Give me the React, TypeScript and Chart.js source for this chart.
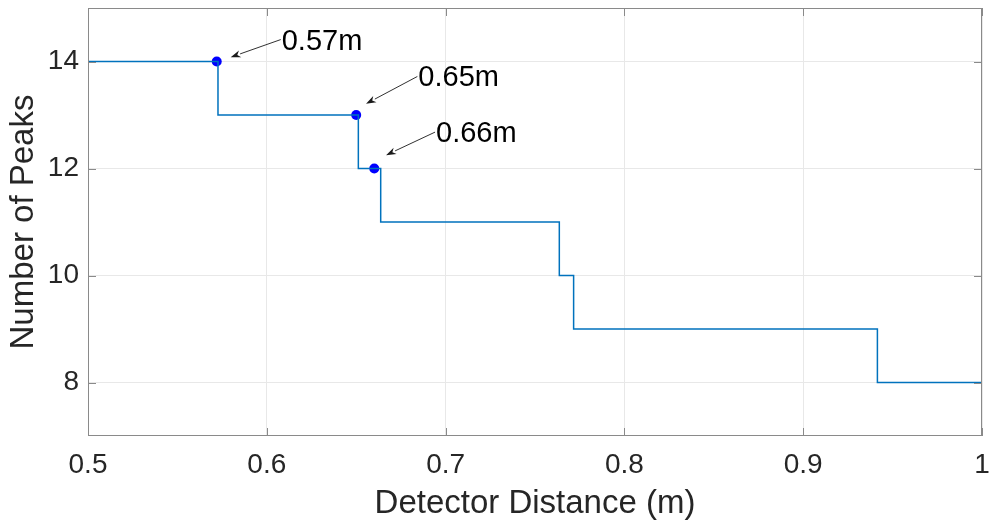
import React, { useEffect, useRef } from "react";
import { Chart, registerables } from "chart.js";

Chart.register(...registerables);

// Step curve: detector distance (m) where the number of peaks changes
const stepX = [0.5, 0.5727, 0.6512, 0.6637, 0.7636, 0.7716, 0.9415, 1.0];
const stepY = [14, 13, 12, 11, 10, 9, 8, 8];

// Highlighted points
const markX = [0.572, 0.65, 0.6601];
const markY = [14, 13, 12];

// Annotations (text anchor / arrow tail and arrow head, in data units)
const annLabels = ["0.57m", "0.65m", "0.66m"];
const annTailX = [0.6078, 0.6842, 0.6941];
const annTailY = [14.41, 13.72, 12.68];
const annHeadX = [0.5798, 0.6555, 0.6667];
const annHeadY = [14.08, 13.21, 12.25];

const xTicks = [0.5, 0.6, 0.7, 0.8, 0.9, 1];
const yTicks = [8, 10, 12, 14];

const FONT = "'Liberation Sans', Arial, Helvetica, sans-serif";
const AXIS_GRAY = "#8a8a8a";
const TEXT = "#262626";

const framePlugin = {
  id: "frame",
  afterDatasetsDraw(chart: any) {
    const { ctx, chartArea: a, scales } = chart;
    const xs = scales.x;
    const ys = scales.y;
    ctx.save();
    // box
    ctx.strokeStyle = AXIS_GRAY;
    ctx.lineWidth = 1;
    ctx.strokeRect(a.left + 0.5, a.top + 0.5, a.right - a.left - 1, a.bottom - a.top - 1);
    // inward ticks
    const tl = 8;
    ctx.beginPath();
    xTicks.forEach((v) => {
      const px = Math.round(xs.getPixelForValue(v)) + 0.5;
      ctx.moveTo(px, a.bottom);
      ctx.lineTo(px, a.bottom - tl);
      ctx.moveTo(px, a.top);
      ctx.lineTo(px, a.top + tl);
    });
    yTicks.forEach((v) => {
      const py = Math.round(ys.getPixelForValue(v)) + 0.5;
      ctx.moveTo(a.left, py);
      ctx.lineTo(a.left + tl, py);
      ctx.moveTo(a.right, py);
      ctx.lineTo(a.right - tl, py);
    });
    ctx.stroke();

    // annotations
    ctx.strokeStyle = "#1a1a1a";
    ctx.fillStyle = "#1a1a1a";
    ctx.lineWidth = 0.9;
    annLabels.forEach((label, i) => {
      const tx = xs.getPixelForValue(annTailX[i]);
      const ty = ys.getPixelForValue(annTailY[i]);
      const hx = xs.getPixelForValue(annHeadX[i]);
      const hy = ys.getPixelForValue(annHeadY[i]);
      const ang = Math.atan2(hy - ty, hx - tx);
      const headLen = 10;
      const headW = 3.5;
      const bx = hx - headLen * Math.cos(ang);
      const by = hy - headLen * Math.sin(ang);
      ctx.beginPath();
      ctx.moveTo(tx, ty);
      ctx.lineTo(bx, by);
      ctx.stroke();
      ctx.beginPath();
      ctx.moveTo(hx, hy);
      ctx.lineTo(bx + headW * Math.sin(ang), by - headW * Math.cos(ang));
      ctx.lineTo(hx - headLen * 0.7 * Math.cos(ang), hy - headLen * 0.7 * Math.sin(ang));
      ctx.lineTo(bx - headW * Math.sin(ang), by + headW * Math.cos(ang));
      ctx.closePath();
      ctx.fill();
      ctx.save();
      ctx.fillStyle = "#000";
      ctx.font = `29px ${FONT}`;
      ctx.textAlign = "left";
      ctx.textBaseline = "middle";
      ctx.fillText(label, tx + 1, ty + 2);
      ctx.restore();
    });
    ctx.restore();
  },
};

export default function App() {
  const ref = useRef<HTMLCanvasElement | null>(null);

  useEffect(() => {
    if (!ref.current) return;
    const chart = new Chart(ref.current, {
      type: "line",
      data: {
        datasets: [
          {
            label: "peaks",
            data: stepX.map((x, i) => ({ x, y: stepY[i] })),
            borderColor: "#0072BD",
            borderWidth: 1.5,
            pointRadius: 0,
            stepped: "before",
            fill: false,
          },
          {
            label: "marks",
            data: markX.map((x, i) => ({ x, y: markY[i] })),
            showLine: false,
            pointRadius: 5,
            pointBackgroundColor: "#0000FF",
            pointBorderColor: "#0000FF",
            pointBorderWidth: 0,
          },
        ],
      },
      options: {
        animation: false,
        responsive: true,
        maintainAspectRatio: false,
        layout: { padding: { top: 8, right: 10, left: 0, bottom: 0 } },
        plugins: {
          legend: { display: false },
          tooltip: { enabled: false },
        },
        scales: {
          x: {
            type: "linear",
            min: 0.5,
            max: 1,
            afterBuildTicks: (s: any) => {
              s.ticks = xTicks.map((v) => ({ value: v }));
            },
            afterFit: (s: any) => {
              s.height = 90;
              s.paddingLeft = 0;
              s.paddingRight = 0;
            },
            grid: { color: "#e8e8e8", drawTicks: false },
            border: { display: false },
            ticks: {
              padding: 12,
              color: TEXT,
              font: { family: FONT, size: 28 },
              maxRotation: 0,
              callback: (v: any) => String(Math.round(Number(v) * 10) / 10),
            },
            title: {
              display: true,
              text: "Detector Distance (m)",
              color: TEXT,
              font: { family: FONT, size: 33 },
              padding: { top: 0, bottom: 2 },
            },
          },
          y: {
            type: "linear",
            min: 7,
            max: 15,
            afterBuildTicks: (s: any) => {
              s.ticks = yTicks.map((v) => ({ value: v }));
            },
            afterFit: (s: any) => {
              s.width = 88;
              s.paddingTop = 0;
              s.paddingBottom = 0;
            },
            grid: { color: "#e8e8e8", drawTicks: false },
            border: { display: false },
            ticks: {
              padding: 9,
              color: TEXT,
              font: { family: FONT, size: 28 },
            },
            title: {
              display: true,
              text: "Number of Peaks",
              color: TEXT,
              font: { family: FONT, size: 33 },
              padding: { top: 4, bottom: 0 },
            },
          },
        },
      },
      plugins: [framePlugin],
    });
    return () => chart.destroy();
  }, []);

  return (
    <div
      style={{
        position: "fixed",
        left: 0,
        top: 0,
        width: 992,
        height: 526,
        background: "#fff",
      }}
    >
      <canvas ref={ref} />
    </div>
  );
}
